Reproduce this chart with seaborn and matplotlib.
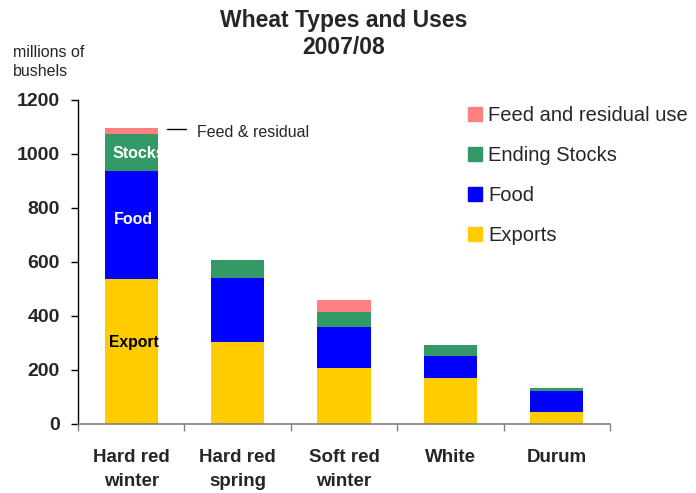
import matplotlib
matplotlib.use('Agg')
import matplotlib.pyplot as plt
import matplotlib.patches as mpatches
import seaborn as sns
import pandas as pd
import numpy as np

# %% dados (milhoes de bushels)
tipos = ['Hard red\nwinter', 'Hard red\nspring', 'Soft red\nwinter', 'White', 'Durum']
exports = [537, 304, 207, 170, 44]
food = [400, 237, 152, 82, 78]
stocks = [137, 66, 56, 41, 11]
feed = [22, 0, 44, 0, 0]

series = ['Exports', 'Food', 'Ending Stocks', 'Feed and residual use']
cores = {'Exports': '#FFCC00', 'Food': '#0000FF',
         'Ending Stocks': '#339966', 'Feed and residual use': '#FF8080'}

df = pd.DataFrame({'tipo': tipos, 'Exports': exports, 'Food': food,
                   'Ending Stocks': stocks, 'Feed and residual use': feed})

# %%
sns.set_style('white')
plt.rcParams['font.family'] = ['Liberation Sans', 'DejaVu Sans']

fig = plt.figure(figsize=(6.96, 4.93), dpi=100)
ax = fig.add_axes([78 / 696, 69 / 493, 532 / 696, 324 / 493])

base = np.zeros(len(tipos))
for s in series:
    sns.barplot(data=df, x='tipo', y=s, bottom=base, color=cores[s],
                width=0.5, linewidth=0, saturation=1, ax=ax)
    base = base + df[s].values

ax.set_xlim(-0.5, 4.5)
ax.set_ylim(0, 1200)
ax.set_yticks(range(0, 1201, 200))
ax.set_xlabel('')
ax.set_ylabel('')

# ticks do eixo x nas divisas das categorias, rotulos no centro
ax.set_xticks(np.arange(-0.5, 5, 1))
ax.set_xticklabels([])
ax.set_xticks(range(len(tipos)), minor=True)
ax.set_xticklabels(tipos, minor=True, fontsize=13.5, fontweight='bold',
                   linespacing=1.55)
ax.tick_params(axis='x', which='minor', length=0, pad=18)
ax.tick_params(axis='x', which='major', length=5, width=1, color='#808080',
               direction='out', bottom=True)
ax.tick_params(axis='y', length=5, width=1, color='black', direction='out',
               left=True, pad=8, labelsize=14)
for lab in ax.get_yticklabels():
    lab.set_fontweight('bold')

sns.despine(ax=ax)
ax.spines['left'].set_color('black')
ax.spines['left'].set_linewidth(1)
ax.spines['bottom'].set_color('#808080')
ax.spines['bottom'].set_linewidth(1.2)

# rotulos dentro da barra Hard red winter
ax.text(-0.18, exports[0] + food[0] + stocks[0] / 2 - 5, 'Stocks', color='white',
        fontsize=11.5, fontweight='bold', ha='left', va='center')
ax.text(0.02, exports[0] + food[0] / 2 + 20, 'Food', color='white',
        fontsize=11.5, fontweight='bold', ha='center', va='center')
ax.text(0.03, 300, 'Export', color='black',
        fontsize=11.3, fontweight='bold', ha='center', va='center')

# anotacao feed & residual
ax.plot([0.336, 0.515], [1093, 1093], color='black', lw=1, clip_on=False)
ax.text(0.618, 1080, 'Feed & residual', fontsize=11.5, ha='left', va='center')

# titulo e rotulo do eixo y
fig.text(344 / 696, 1 - 34 / 493, 'Wheat Types and Uses\n2007/08', ha='center',
         va='center', fontsize=16.5, fontweight='bold', linespacing=1.25)
fig.text(13 / 696, 1 - 62 / 493, 'millions of\nbushels', ha='left', va='center',
         fontsize=11.5, linespacing=1.3)

handles = [mpatches.Patch(color=cores[s], label=s) for s in series[::-1]]
fig.legend(handles=handles, loc='upper left', bbox_to_anchor=(468 / 696, 1 - 106 / 493),
           frameon=False, fontsize=14.5, handlelength=0.7, handleheight=0.7,
           handletextpad=0.3, labelspacing=1.05, borderpad=0, borderaxespad=0)

plt.savefig('out.png', dpi=100)
